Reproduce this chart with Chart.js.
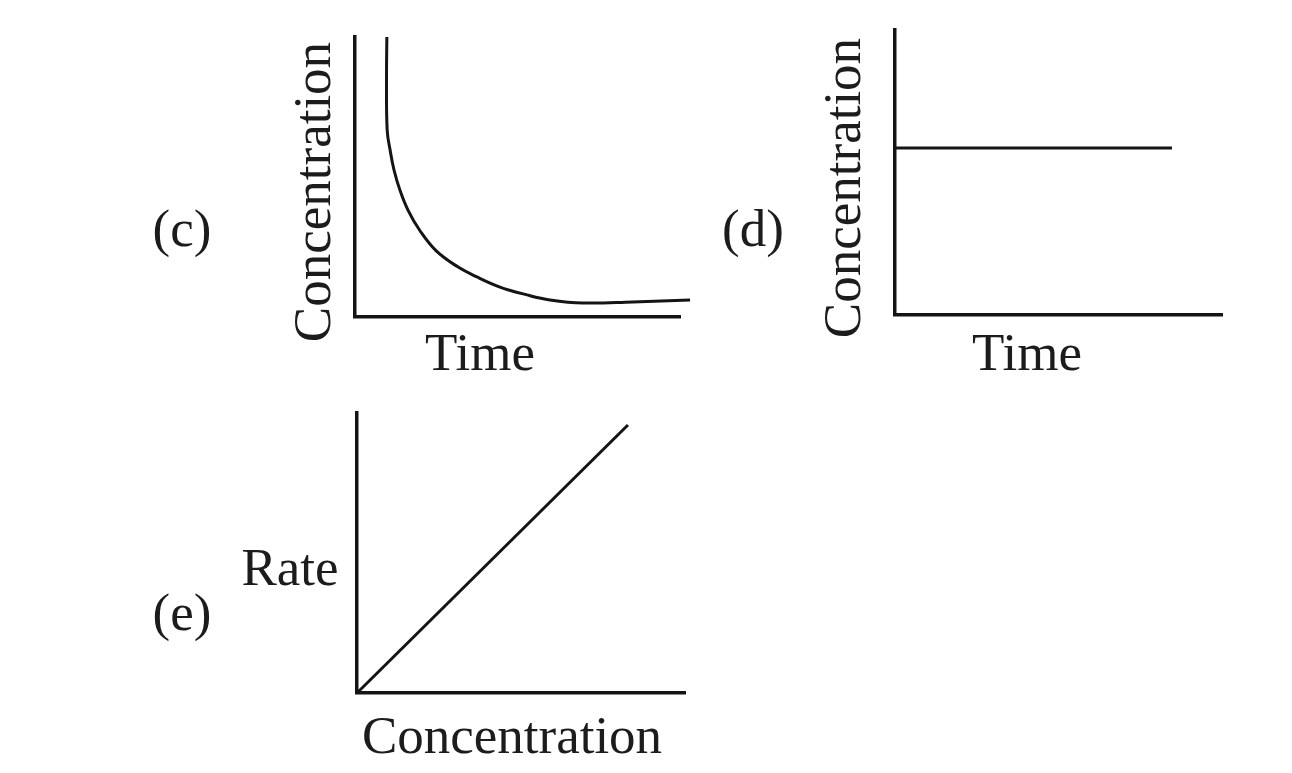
<!DOCTYPE html>
<html>
<head>
<meta charset="utf-8">
<script src="https://cdn.jsdelivr.net/npm/chart.js@4.4.1/dist/chart.umd.min.js"></script>
<style>
  html, body { margin: 0; padding: 0; background: #fff; }
  #page { position: relative; width: 1292px; height: 773px; overflow: hidden; }
  .box { position: absolute; }
  .lbl {
    position: absolute;
    font-family: "Liberation Serif", "Times New Roman", serif;
    font-size: 53px;
    color: #1c1c1c;
    white-space: nowrap;
    transform: translate(-50%, -50%);
    line-height: 1;
  }
  .rot { transform: translate(-50%, -50%) rotate(-90deg); }
</style>
</head>
<body>
<div id="page">
  <div class="box" style="left:345px; top:27px; width:355px; height:300px;"><canvas id="chartC"></canvas></div>
  <div class="box" style="left:885px; top:20px; width:357px; height:305px;"><canvas id="chartD"></canvas></div>
  <div class="box" style="left:347px; top:403px; width:358px; height:300px;"><canvas id="chartE"></canvas></div>

  <div class="lbl" style="left:182px; top:228px;">(c)</div>
  <div class="lbl rot" style="left:312px; top:192px;">Concentration</div>
  <div class="lbl" style="left:480px; top:352px;">Time</div>

  <div class="lbl" style="left:753px; top:228px;">(d)</div>
  <div class="lbl rot" style="left:842px; top:188px;">Concentration</div>
  <div class="lbl" style="left:1027px; top:352px;">Time</div>

  <div class="lbl" style="left:182px; top:612px;">(e)</div>
  <div class="lbl" style="left:290px; top:567px;">Rate</div>
  <div class="lbl" style="left:512px; top:735px;">Concentration</div>
</div>
<script>
// (c) concentration decays with time
const timeC = [0.98, 0.97, 0.99, 1.08, 1.2, 1.38, 1.63, 2.0, 2.5, 3.15, 3.75, 4.46, 5.29, 6.0, 7.02, 8.55, 10.31];
const concC = [10.0, 8.46, 6.68, 5.96, 5.25, 4.54, 3.82, 3.08, 2.36, 1.8, 1.43, 1.07, 0.79, 0.61, 0.5, 0.54, 0.61];

// (d) constant concentration
const timeD = [0, 8.47];
const concD = [5.86, 5.86];

// (e) rate rises linearly with concentration
const concE = [0, 8.26];
const rateE = [0, 9.57];

const ink = '#141414';

function toPoints(xs, ys) {
  return xs.map(function (x, i) { return { x: x, y: ys[i] }; });
}

function axisOpts() {
  return {
    type: 'linear',
    min: 0,
    max: 10,
    ticks: { display: false },
    grid: { display: false, drawTicks: false, tickLength: 0 },
    border: { display: true, color: ink, width: 3.5 }
  };
}

function makeChart(id, xs, ys, tension, pad) {
  const ctx = document.getElementById(id).getContext('2d');
  return new Chart(ctx, {
    type: 'line',
    data: {
      datasets: [{
        data: toPoints(xs, ys),
        borderColor: ink,
        borderWidth: 3,
        pointRadius: 0,
        fill: false,
        clip: false,
        tension: tension
      }]
    },
    options: {
      responsive: true,
      maintainAspectRatio: false,
      animation: false,
      layout: { padding: pad },
      plugins: { legend: { display: false }, tooltip: { enabled: false } },
      scales: { x: axisOpts(), y: axisOpts() }
    }
  });
}

makeChart('chartC', timeC, concC, 0.4, { left: 10, right: 20, top: 10, bottom: 10 });
makeChart('chartD', timeD, concD, 0, { left: 10, right: 20, top: 10, bottom: 10 });
makeChart('chartE', concE, rateE, 0, { left: 10, right: 20, top: 10, bottom: 10 });
</script>
</body>
</html>
